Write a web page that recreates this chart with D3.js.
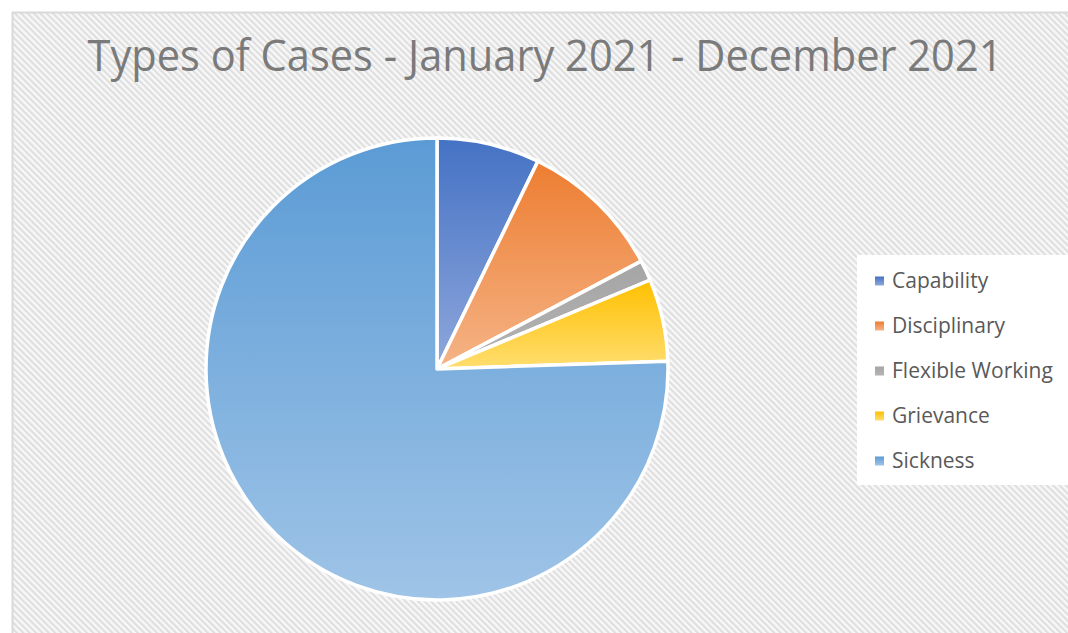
<!DOCTYPE html>
<html>
<head>
<meta charset="utf-8">
<script src="https://cdn.jsdelivr.net/npm/d3@7.9.0/dist/d3.min.js"></script>
<style>
  html, body { margin: 0; padding: 0; background: #fff; }
  svg { display: block; font-family: "Open Sans", "Noto Sans", sans-serif; }
</style>
</head>
<body>
<svg width="1068" height="633"></svg>
<script>
// data (case counts)
const categories = ["Capability", "Disciplinary", "Flexible Working", "Grievance", "Sickness"];
const cases = [10, 14, 2, 8, 105];
const title = "Types of Cases - January 2021 - December 2021";

// gradient colours, top -> bottom
const topColors = ["#4472C4", "#ED7D31", "#A5A5A5", "#FFC000", "#5B9BD5"];
const bottomColors = ["#8FA7DC", "#F5B487", "#B4B4B4", "#FFDE70", "#9FC4E7"];

const svg = d3.select("svg");
const defs = svg.append("defs");

// diagonal hatch background
const hatch = defs.append("pattern")
    .attr("id", "hatch")
    .attr("patternUnits", "userSpaceOnUse")
    .attr("width", 4.5)
    .attr("height", 4.5)
    .attr("patternTransform", "rotate(-45)");
hatch.append("rect").attr("width", 4.5).attr("height", 4.5).attr("fill", "#f7f7f7");
hatch.append("rect").attr("width", 2).attr("height", 4.5).attr("fill", "#dedede");

categories.forEach((c, i) => {
    const g = defs.append("linearGradient")
        .attr("id", "grad" + i)
        .attr("x1", 0).attr("y1", 0).attr("x2", 0).attr("y2", 1);
    g.append("stop").attr("offset", "0%").attr("stop-color", topColors[i]);
    g.append("stop").attr("offset", "100%").attr("stop-color", bottomColors[i]);
});

// chart area
svg.append("rect")
    .attr("x", 12.5).attr("y", 12.5)
    .attr("width", 1080).attr("height", 640)
    .attr("fill", "url(#hatch)")
    .attr("stroke", "#d9d9d9")
    .attr("stroke-width", 2);

svg.append("text")
    .attr("x", 545)
    .attr("y", 71)
    .attr("text-anchor", "middle")
    .attr("fill", "#7a7a7a")
    .attr("font-size", 44)
    .attr("textLength", 915)
    .attr("lengthAdjust", "spacingAndGlyphs")
    .text(title);

// pie
const cx = 437, cy = 369, radius = 231;
const pie = d3.pie().sort(null).value(d => d)(cases);
const arc = d3.arc().innerRadius(0).outerRadius(radius);

svg.append("g")
    .attr("transform", `translate(${cx},${cy})`)
    .selectAll("path")
    .data(pie)
    .join("path")
    .attr("d", arc)
    .attr("fill", (d, i) => `url(#grad${i})`)
    .attr("stroke", "#fff")
    .attr("stroke-width", 3.5)
    .attr("stroke-linejoin", "round");

// legend
const legend = svg.append("g");
legend.append("rect")
    .attr("x", 857).attr("y", 255)
    .attr("width", 220).attr("height", 230)
    .attr("fill", "#fff");

const y = d3.scalePoint().domain(categories).range([281, 461]);

const items = legend.selectAll("g.item")
    .data(categories)
    .join("g")
    .attr("class", "item")
    .attr("transform", d => `translate(0,${y(d)})`);

items.append("rect")
    .attr("x", 875).attr("y", -4.5)
    .attr("width", 9).attr("height", 9)
    .attr("fill", (d, i) => `url(#grad${i})`);

items.append("text")
    .attr("x", 892)
    .attr("dy", "0.35em")
    .attr("fill", "#595959")
    .attr("font-size", 21)
    .text(d => d);
</script>
</body>
</html>
